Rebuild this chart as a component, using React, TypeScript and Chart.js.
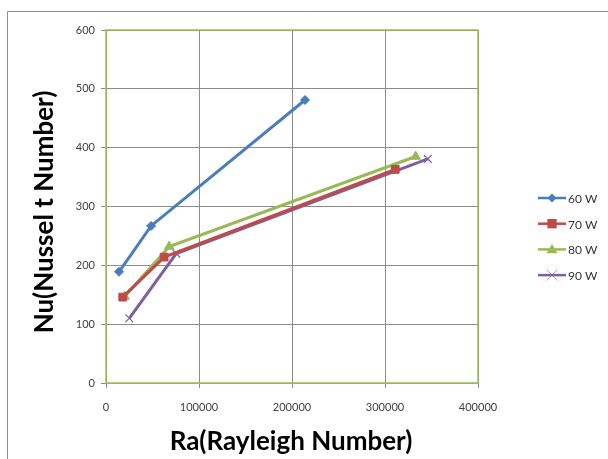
import React, { useEffect, useRef } from "react";
import { Chart, registerables } from "chart.js";

Chart.register(...registerables);

const seriesLabels = ["60 W", "70 W", "80 W", "90 W"];
const raValues = [
  [14000, 48500, 214000],
  [18000, 62500, 311000],
  [20000, 68000, 333000],
  [25000, 75500, 346000],
];
const nuValues = [
  [189, 267, 481],
  [146, 214, 363],
  [147, 232, 385],
  [110, 220, 381],
];
const seriesColors = ["#4A7EBB", "#BE4B48", "#98B954", "#7D60A0"];
const seriesMarkers = ["rectRot", "rect", "triangle", "crossRot"];
const markerSizes = [4.5, 5.5, 5.5, 5.5];
const xTicks = [0, 100000, 200000, 300000, 400000];
const yTicks = [0, 100, 200, 300, 400, 500, 600];
const xTitle = "Ra(Rayleigh Number)";
const yTitle = "Nu(Nussel t Number)";

const FONT = "Lato, 'Open Sans', sans-serif";

function drawMarker(ctx: any, style: string, x: number, y: number, r: number, color: string) {
  ctx.save();
  ctx.fillStyle = color;
  ctx.strokeStyle = color;
  ctx.beginPath();
  if (style === "rectRot") {
    ctx.moveTo(x, y - r);
    ctx.lineTo(x + r, y);
    ctx.lineTo(x, y + r);
    ctx.lineTo(x - r, y);
    ctx.closePath();
    ctx.fill();
  } else if (style === "rect") {
    const s = r * 0.85;
    ctx.rect(x - s, y - s, 2 * s, 2 * s);
    ctx.fill();
  } else if (style === "triangle") {
    ctx.moveTo(x, y - r);
    ctx.lineTo(x + r, y + r * 0.7);
    ctx.lineTo(x - r, y + r * 0.7);
    ctx.closePath();
    ctx.fill();
  } else {
    ctx.lineWidth = 1;
    ctx.globalAlpha = 0.6;
    ctx.moveTo(x - r, y - r);
    ctx.lineTo(x + r, y + r);
    ctx.moveTo(x + r, y - r);
    ctx.lineTo(x - r, y + r);
    ctx.stroke();
  }
  ctx.restore();
}

const decorPlugin = {
  id: "decor",
  beforeDraw(chart: any) {
    const ctx = chart.ctx;
    ctx.save();
    ctx.fillStyle = "#ffffff";
    ctx.fillRect(0, 0, chart.width, chart.height);
    ctx.strokeStyle = "#8c8c8c";
    ctx.lineWidth = 1;
    ctx.beginPath();
    ctx.moveTo(7.5, chart.height);
    ctx.lineTo(7.5, 11.5);
    ctx.lineTo(chart.width, 11.5);
    ctx.stroke();
    ctx.restore();
  },
  afterDraw(chart: any) {
    const ctx = chart.ctx;
    const a = chart.chartArea;
    ctx.save();
    ctx.strokeStyle = "#9BBB59";
    ctx.lineWidth = 1.5;
    ctx.strokeRect(a.left, a.top, a.right - a.left, a.bottom - a.top);
    ctx.fillStyle = "#000000";
    ctx.font = `bold 26px ${FONT}`;
    ctx.textAlign = "center";
    ctx.textBaseline = "middle";
    ctx.fillText(xTitle, 291, 442);
    ctx.translate(45, 212);
    ctx.rotate(-Math.PI / 2);
    ctx.fillText(yTitle, 0, 0);
    ctx.restore();
    ctx.save();
    chart.data.datasets.forEach((ds: any, i: number) => {
      const y = 198 + i * 25.7;
      ctx.strokeStyle = ds.borderColor;
      ctx.lineWidth = 2.5;
      ctx.beginPath();
      ctx.moveTo(538, y);
      ctx.lineTo(566, y);
      ctx.stroke();
      drawMarker(ctx, ds.pointStyle, 552, y, ds.pointRadius, ds.borderColor);
      ctx.fillStyle = "#333333";
      ctx.font = `12px ${FONT}`;
      ctx.textAlign = "left";
      ctx.textBaseline = "middle";
      ctx.fillText(ds.label, 568, y + 1);
    });
    ctx.restore();
  },
};

export default function App() {
  const ref = useRef<HTMLCanvasElement | null>(null);
  useEffect(() => {
    document.body.style.margin = "0";
    const canvas = ref.current!;
    const datasets = seriesLabels.map((label, i) => ({
      label,
      data: raValues[i].map((x, j) => ({ x, y: nuValues[i][j] })),
      borderColor: seriesColors[i],
      backgroundColor: seriesColors[i],
      pointStyle: seriesMarkers[i],
      pointRadius: markerSizes[i],
      pointBorderWidth: seriesMarkers[i] === "crossRot" ? 1.2 : 1,
      borderWidth: 3,
      showLine: true,
      tension: 0,
    }));
    const chart = new Chart(canvas, {
      type: "scatter",
      data: { datasets: datasets as any },
      options: {
        animation: false,
        responsive: false,
        devicePixelRatio: 1,
        layout: { padding: { left: 0, top: 30, right: 130, bottom: 0 } },
        plugins: { legend: { display: false }, tooltip: { enabled: false } },
        scales: {
          x: {
            type: "linear",
            min: 0,
            max: 400000,
            afterFit(scale: any) {
              scale.height = 76;
            },
            afterBuildTicks(scale: any) {
              scale.ticks = xTicks.map((v) => ({ value: v }));
            },
            ticks: {
              color: "#404040",
              font: { family: FONT, size: 11 },
              padding: 13,
              maxRotation: 0,
              autoSkip: false,
              callback: (v: any) => String(v),
            },
            grid: { color: "#8c8c8c", lineWidth: 1, tickLength: 5, tickColor: "#8c8c8c" },
            border: { color: "#9BBB59" },
          },
          y: {
            type: "linear",
            min: 0,
            max: 600,
            afterFit(scale: any) {
              scale.width = 106;
            },
            afterBuildTicks(scale: any) {
              scale.ticks = yTicks.map((v) => ({ value: v }));
            },
            ticks: {
              color: "#404040",
              font: { family: FONT, size: 11 },
              padding: 6,
              autoSkip: false,
              callback: (v: any) => String(v),
            },
            grid: { color: "#8c8c8c", lineWidth: 1, tickLength: 5, tickColor: "#8c8c8c" },
            border: { color: "#9BBB59" },
          },
        },
      },
      plugins: [decorPlugin],
    });
    return () => chart.destroy();
  }, []);
  return (
    <div style={{ position: "absolute", left: 0, top: 0, width: 608, height: 459 }}>
      <canvas ref={ref} width={608} height={459} style={{ width: 608, height: 459 }} />
    </div>
  );
}
